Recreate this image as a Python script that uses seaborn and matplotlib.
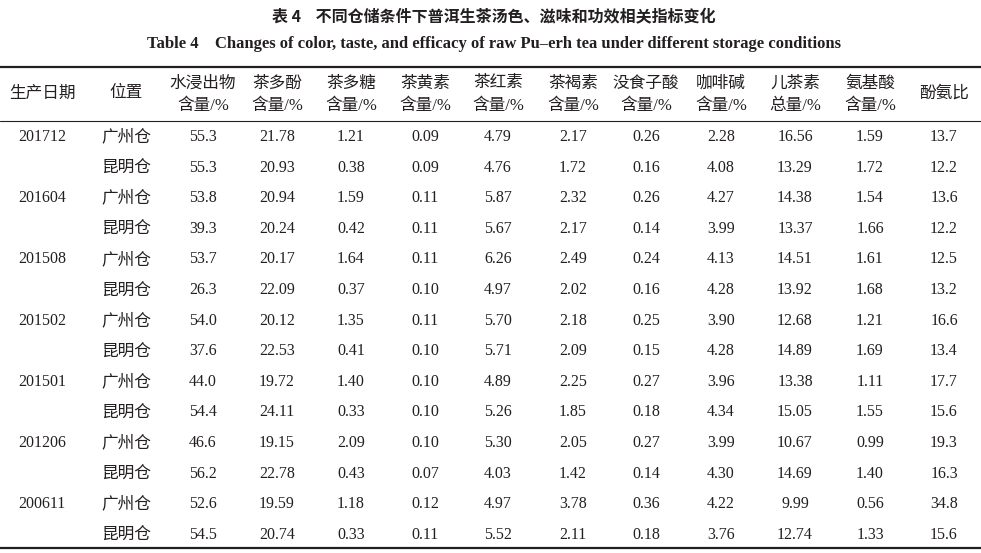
import numpy as np
import pandas as pd
import matplotlib
matplotlib.use("Agg")
import matplotlib.pyplot as plt
import seaborn as sns

# --- data ---
dates = ["201712", "201604", "201508", "201502", "201501", "201206", "200611"]
sites = ["广州仓", "昆明仓"]
col_heads = [
    ("生产日期", None), ("位置", None),
    ("水浸出物", "含量/%"), ("茶多酚", "含量/%"), ("茶多糖", "含量/%"),
    ("茶黄素", "含量/%"), ("茶红素", "含量/%"), ("茶褐素", "含量/%"),
    ("没食子酸", "含量/%"), ("咖啡碱", "含量/%"), ("儿茶素", "总量/%"),
    ("氨基酸", "含量/%"), ("酚氨比", None),
]
water_extract = [55.3, 55.3, 53.8, 39.3, 53.7, 26.3, 54.0, 37.6, 44.0, 54.4, 46.6, 56.2, 52.6, 54.5]
polyphenols = [21.78, 20.93, 20.94, 20.24, 20.17, 22.09, 20.12, 22.53, 19.72, 24.11, 19.15, 22.78, 19.59, 20.74]
polysaccharides = [1.21, 0.38, 1.59, 0.42, 1.64, 0.37, 1.35, 0.41, 1.40, 0.33, 2.09, 0.43, 1.18, 0.33]
theaflavins = [0.09, 0.09, 0.11, 0.11, 0.11, 0.10, 0.11, 0.10, 0.10, 0.10, 0.10, 0.07, 0.12, 0.11]
thearubigins = [4.79, 4.76, 5.87, 5.67, 6.26, 4.97, 5.70, 5.71, 4.89, 5.26, 5.30, 4.03, 4.97, 5.52]
theabrownins = [2.17, 1.72, 2.32, 2.17, 2.49, 2.02, 2.18, 2.09, 2.25, 1.85, 2.05, 1.42, 3.78, 2.11]
gallic_acid = [0.26, 0.16, 0.26, 0.14, 0.24, 0.16, 0.25, 0.15, 0.27, 0.18, 0.27, 0.14, 0.36, 0.18]
caffeine = [2.28, 4.08, 4.27, 3.99, 4.13, 4.28, 3.90, 4.28, 3.96, 4.34, 3.99, 4.30, 4.22, 3.76]
catechins = [16.56, 13.29, 14.38, 13.37, 14.51, 13.92, 12.68, 14.89, 13.38, 15.05, 10.67, 14.69, 9.99, 12.74]
amino_acids = [1.59, 1.72, 1.54, 1.66, 1.61, 1.68, 1.21, 1.69, 1.11, 1.55, 0.99, 1.40, 0.56, 1.33]
phenol_amino_ratio = [13.7, 12.2, 13.6, 12.2, 12.5, 13.2, 16.6, 13.4, 17.7, 15.6, 19.3, 16.3, 34.8, 15.6]

num_cols = [(water_extract, 1), (polyphenols, 2), (polysaccharides, 2), (theaflavins, 2),
            (thearubigins, 2), (theabrownins, 2), (gallic_acid, 2), (caffeine, 2),
            (catechins, 2), (amino_acids, 2), (phenol_amino_ratio, 1)]

# --- style ---
sns.set_theme(style="white")
plt.rcParams["font.family"] = ["Noto Sans CJK SC", "DejaVu Sans"]
CJK = ["Noto Sans CJK SC", "DejaVu Sans"]
SERIF = ["Liberation Serif", "DejaVu Serif"]
MIXED = ["Liberation Serif", "Noto Sans CJK SC", "DejaVu Sans"]  # latin in serif, CJK falls through
INK = "#231f20"

fig = plt.figure(figsize=(9.81, 5.53), dpi=100)
ax = fig.add_axes([0, 0, 1, 1])
ax.set_xlim(0, 981)
ax.set_ylim(553, 0)
ax.axis("off")

col_x = [42, 126, 203, 277, 351, 425, 498, 573, 646, 721, 795, 870, 944]
row_y0, row_dy = 137, 30.6

# titles
ax.text(494, 16, "表 4    不同仓储条件下普洱生茶汤色、滋味和功效相关指标变化",
        ha="center", va="center", fontsize=11.5, fontweight="bold", family=CJK, color=INK)
ax.text(494, 44, "Table 4    Changes of color, taste, and efficacy of raw Pu–erh tea under different storage conditions",
        ha="center", va="center", fontsize=12, fontweight="bold", family=SERIF, color=INK)

# rules
ax.axhline(66.5, color=INK, lw=1.6)
ax.axhline(120.5, color=INK, lw=0.8)
ax.axhline(548, color=INK, lw=1.6)

# header
for x, (h1, h2) in zip(col_x, col_heads):
    if h2 is None:
        ax.text(x, 93, h1, ha="center", va="center", fontsize=12, family=CJK, color=INK)
    else:
        ax.text(x, 83, h1, ha="center", va="center", fontsize=12, family=CJK, color=INK)
        ax.text(x, 106, h2, ha="center", va="center", fontsize=12, family=MIXED, color=INK)

# body
n = len(water_extract)
for i in range(n):
    y = row_y0 + i * row_dy
    if i % 2 == 0:
        ax.text(col_x[0], y, dates[i // 2], ha="center", va="center", fontsize=11.5, family=SERIF, color=INK)
    ax.text(col_x[1], y, sites[i % 2], ha="center", va="center", fontsize=12, family=CJK, color=INK)
    for j, (vals, dec) in enumerate(num_cols):
        ax.text(col_x[j + 2], y, f"{vals[i]:.{dec}f}", ha="center", va="center",
                fontsize=11.5, family=SERIF, color=INK)

fig.savefig("out.png", dpi=100, facecolor="white")
